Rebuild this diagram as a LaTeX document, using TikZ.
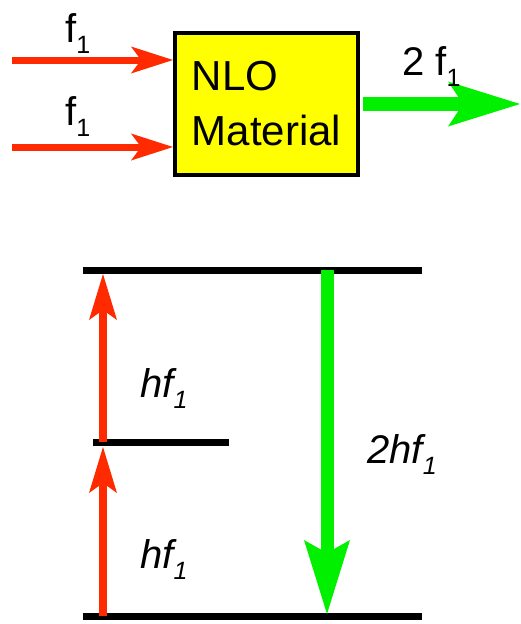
\documentclass[tikz,border=0pt]{standalone}
\usepackage{fontspec}
\setmainfont{Liberation Sans}
\usetikzlibrary{arrows.meta}
\definecolor{beamred}{HTML}{FF2A00}
\definecolor{beamgreen}{HTML}{00F000}
\definecolor{boxyellow}{HTML}{FFFF00}
\newcommand{\sublbl}[2]{#1\raisebox{-11pt}{\fontsize{25}{25}\selectfont #2}}
\begin{document}
\begin{tikzpicture}[x=1pt,y=-1pt,
  redbeam/.style={draw=beamred, line width=7pt,
    -{Stealth[length=42pt,width=27pt,inset=10pt,line width=0pt,fill=beamred]}},
  redbeamv/.style={draw=beamred, line width=8pt,
    -{Stealth[length=46pt,width=28pt,inset=10pt,line width=0pt,fill=beamred]}},
  greenbeam/.style={draw=beamgreen, line width=14pt,
    -{Stealth[length=72pt,width=45pt,inset=15pt,line width=0pt,fill=beamgreen]}},
  greenbeamv/.style={draw=beamgreen, line width=13pt,
    -{Stealth[length=74pt,width=46pt,inset=13pt,line width=0pt,fill=beamgreen]}},
  level/.style={draw=black, line width=7pt},
  lbl/.style={anchor=base west, inner sep=0pt, font=\fontsize{40}{40}\selectfont},
  nlobox/.style={draw=black, line width=4pt, fill=boxyellow, minimum width=183pt,
    minimum height=142pt, inner sep=0pt, align=left, font=\fontsize{42}{55}\selectfont}
]
\useasboundingbox (0,0) rectangle (520,624);

% top: NLO material
\node[nlobox] (nlo) at (266.5,104) {NLO\\Material};
\coordinate (in1) at (12,60);
\coordinate (in2) at (12,147);
\draw[redbeam] (in1) -- (in1 -| nlo.west);
\draw[redbeam] (in2) -- (in2 -| nlo.west);
\coordinate (outs) at (363,104);
\coordinate (oute) at (520,104);
\draw[greenbeam] (outs) -- (oute);

\node[lbl] (f1a) at (65,42) {\sublbl{f}{1}};
\node[lbl] (f1b) at (65,125) {\sublbl{f}{1}};
\node[lbl] (f2) at (402,75) {\sublbl{2 f}{1}};

% bottom: energy levels
\coordinate (L2a) at (83,270);
\coordinate (L2b) at (422,270);
\coordinate (L1a) at (93,442);
\coordinate (L1b) at (229,442);
\coordinate (L0a) at (83,616);
\coordinate (L0b) at (422,616);
\draw[level] (L2a) -- (L2b);
\draw[level] (L1a) -- (L1b);
\draw[level] (L0a) -- (L0b);

\coordinate (ru1) at (103,442);
\coordinate (ru2) at (103,274);
\coordinate (rl1) at (103,616);
\coordinate (rl2) at (103,447);
\draw[redbeamv] (ru1) -- (ru2);
\draw[redbeamv] (rl1) -- (rl2);

\coordinate (gd1) at (327,270);
\coordinate (gd2) at (327,614);
\draw[greenbeamv] (gd1) -- (gd2);

\node[lbl] (hfu) at (140,397) {\sublbl{\itshape hf}{\itshape 1}};
\node[lbl] (hfl) at (140,568) {\sublbl{\itshape hf}{\itshape 1}};
\node[lbl] (hf2) at (367,463) {\sublbl{\itshape 2hf}{\itshape 1}};
\end{tikzpicture}
\end{document}
